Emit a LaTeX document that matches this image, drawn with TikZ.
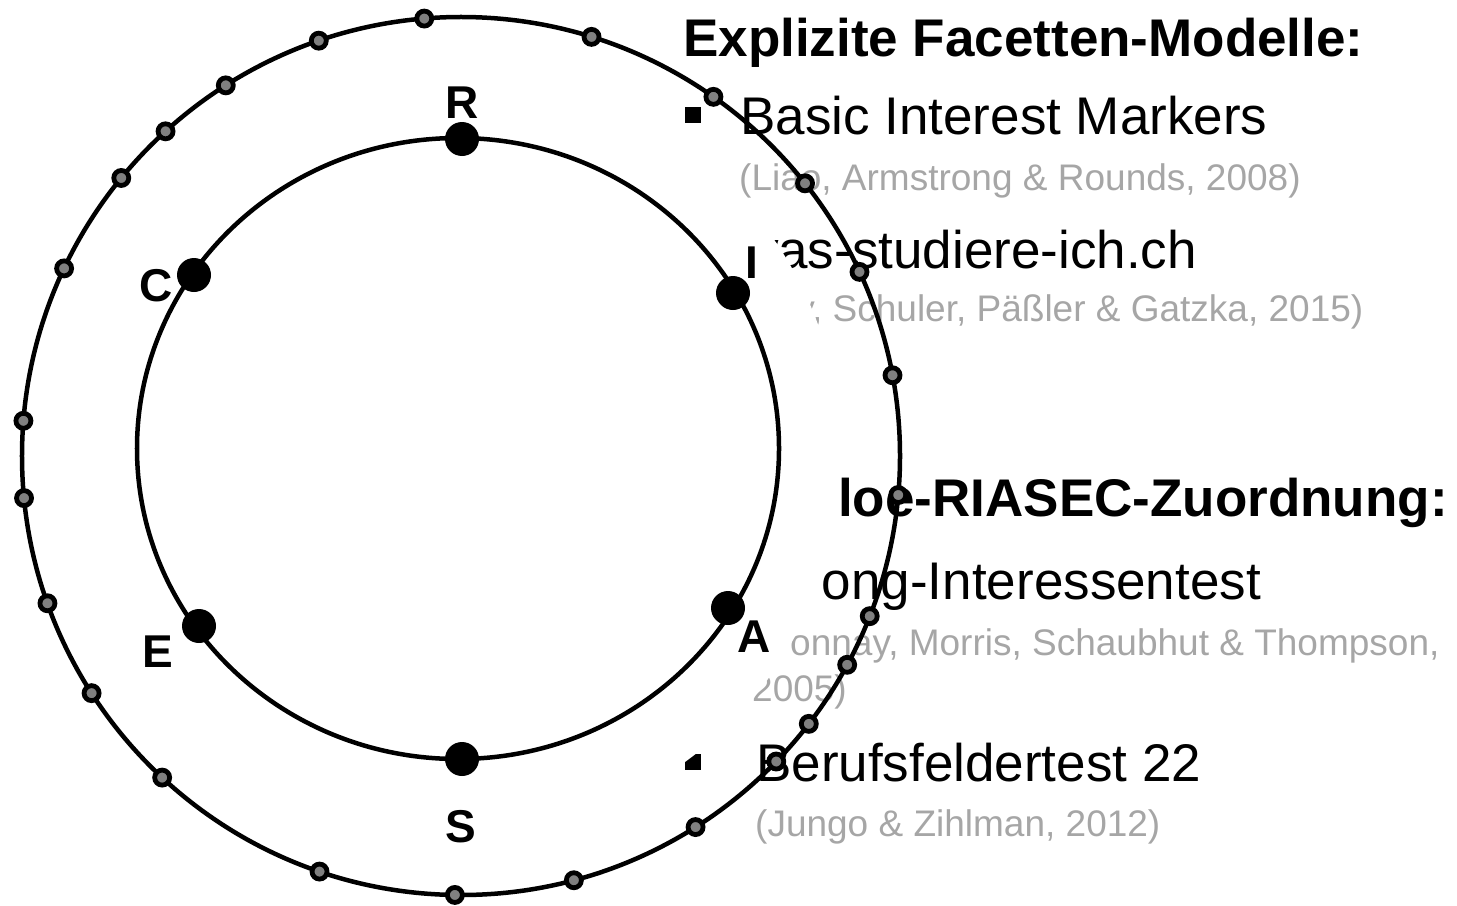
\documentclass[tikz,border=0pt]{standalone}
\usepackage{fontspec}
\setmainfont{Liberation Sans}
\definecolor{citegray}{RGB}{166,166,166}
\definecolor{dotgray}{RGB}{128,128,128}
\begin{document}
\begin{tikzpicture}[x=1bp,y=-1bp,
  head/.style={anchor=base west,inner sep=0,font=\fontsize{53bp}{60bp}\selectfont\bfseries},
  item/.style={anchor=base west,inner sep=0,font=\fontsize{53bp}{60bp}\selectfont},
  cite/.style={anchor=base west,inner sep=0,text=citegray,font=\fontsize{37bp}{45bp}\selectfont},
  bul/.style={fill=black,minimum size=16bp,inner sep=0},
  rlabel/.style={anchor=base,inner sep=0,font=\fontsize{46bp}{52bp}\selectfont\bfseries},
  sdot/.style={circle,draw=black,fill=dotgray,line width=4.8bp,minimum size=15bp,inner sep=0},
  bdot/.style={circle,fill=black,minimum size=34bp,inner sep=0},
  ring/.style={draw=black,line width=4.5bp}]
\useasboundingbox (0,0) rectangle (1457,905);
\coordinate (O) at (461,456);
\coordinate (Oi) at (458,448.5);
\coordinate (Ow) at (461,455);
% text block
\node[head] (h1) at (683,56) {Explizite Facetten-Modelle:};
\node[bul] (b1) at (693,115) {};
\node[item] (t1) at (740,134) {Basic Interest Markers};
\node[cite] (c1) at (739,190) {(Liao, Armstrong \& Rounds, 2008)};
\node[item] (t2) at (740,268) {was-studiere-ich.ch};
\node[cite] (c2) at (716,321) {(Nagy, Schuler, Päßler \& Gatzka, 2015)};
\node[head] (h2) at (838,516) {loe-RIASEC-Zuordnung:};
\node[item] (t3) at (754,599) {Strong-Interessentest};
\node[cite] (c3) at (751,655) {(Donnay, Morris, Schaubhut \& Thompson,};
\node[cite] (c3b) at (752,701) {2005)};
\node[bul] (b4) at (693,762) {};
\node[item] (t4) at (756,781) {Berufsfeldertest 22};
\node[cite] (c4) at (755,836) {(Jungo \& Zihlman, 2012)};
% white disk covering the text
\fill[white] (Ow) circle[radius=380bp];
% outer ring with dots
\draw[ring] (O) circle[radius=439bp];
\foreach \a [count=\i] in {94.8,108.9,122.4,132.3,140.7,154.7,175.4,185.5,199.6,212.7,227.1,251.2,269.2,284.9,302.3,315.9,322.4,331.6,338.6,354.9,10.6,24.8,38.4,54.9,72.7}
  \node[sdot] (d\i) at ([shift={(\a:439bp)}]O) {};
% inner ring
\draw[ring] (Oi) ellipse[x radius=321bp, y radius=310.5bp];
\node[bdot] (R) at (462,139) {};
\node[bdot] (I) at (733,293) {};
\node[bdot] (A) at (728,608) {};
\node[bdot] (S) at (462,759) {};
\node[bdot] (E) at (199,626) {};
\node[bdot] (C) at (194,275) {};
\node[rlabel] (lR) at (462,118) {R};
\node[rlabel] (lI) at (751.5,278) {I};
\node[rlabel] (lA) at (754,652) {A};
\node[rlabel] (lS) at (461,842) {S};
\node[rlabel] (lE) at (157.5,667) {E};
\node[rlabel] (lC) at (156,301) {C};
\end{tikzpicture}
\end{document}
